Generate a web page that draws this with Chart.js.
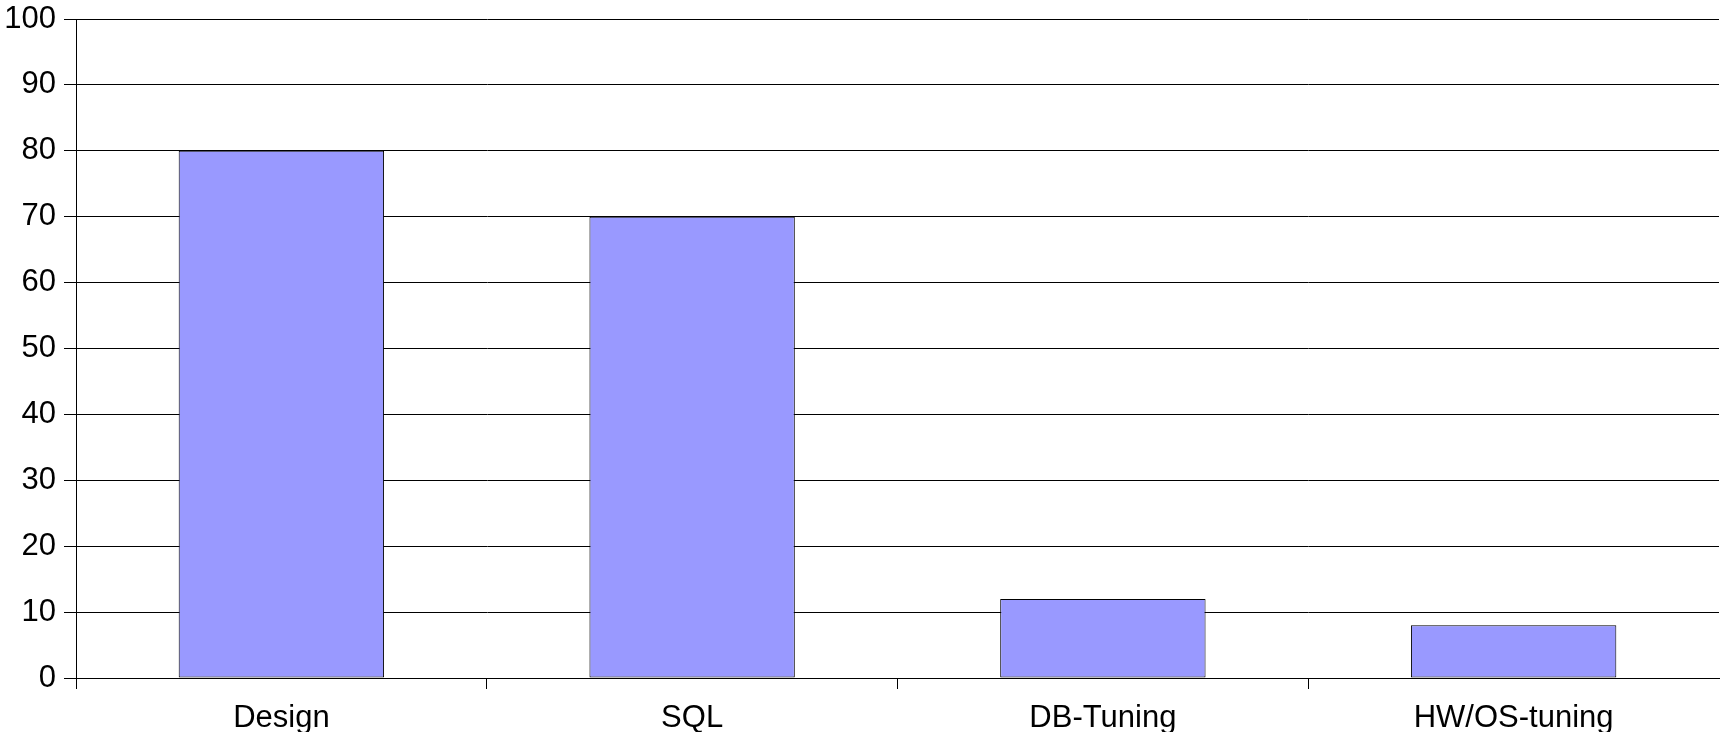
<!DOCTYPE html>
<html>
<head>
<meta charset="utf-8">
<script src="https://cdn.jsdelivr.net/npm/chart.js@4/dist/chart.umd.min.js"></script>
<style>
  html, body { margin: 0; padding: 0; background: #ffffff; }
  #wrap { width: 1721px; height: 732px; }
</style>
</head>
<body>
<div id="wrap"><canvas id="c" width="1721" height="732"></canvas></div>
<script>
// Categories and values
const categories = ['Design', 'SQL', 'DB-Tuning', 'HW/OS-tuning'];
const values = [80, 70, 12, 8];
const yTicks = [0, 10, 20, 30, 40, 50, 60, 70, 80, 90, 100];

const FONT = { family: "'Liberation Sans', Arial, Helvetica, sans-serif", size: 31 };

new Chart(document.getElementById('c'), {
  type: 'bar',
  data: {
    labels: categories,
    datasets: [{
      data: values,
      backgroundColor: '#9999ff',
      borderColor: '#000000',
      borderWidth: 1,
      borderSkipped: false,
      categoryPercentage: 1.0,
      barPercentage: 0.5
    }]
  },
  options: {
    responsive: false,
    animation: false,
    devicePixelRatio: 1,
    layout: { padding: { top: 0, right: 2, bottom: 0, left: 0 } },
    plugins: { legend: { display: false }, tooltip: { enabled: false } },
    scales: {
      x: {
        offset: true,
        border: { display: true, color: '#000000', width: 1 },
        grid: {
          offset: true,
          drawOnChartArea: false,
          drawTicks: true,
          tickLength: 11,
          // tick marks between categories, none after the last one
          color: (ctx) => ctx.type === 'tick' ? '#000000' : 'rgba(0,0,0,0)'
        },
        ticks: { color: '#000000', font: FONT, padding: 11, maxRotation: 0 },
        afterFit(scale) { scale.height = 54; }
      },
      y: {
        min: 0,
        max: 100,
        border: { display: true, color: '#000000', width: 1 },
        grid: {
          color: '#000000',
          lineWidth: 1,
          tickLength: 12,
          drawTicks: true
        },
        afterBuildTicks(scale) { scale.ticks = yTicks.map(v => ({ value: v })); },
        ticks: { color: '#000000', font: FONT, padding: 8 },
        afterFit(scale) {
          scale.width = 76;
          scale.paddingTop = 19;
          scale.paddingBottom = 0;
        }
      }
    }
  }
});
</script>
</body>
</html>
